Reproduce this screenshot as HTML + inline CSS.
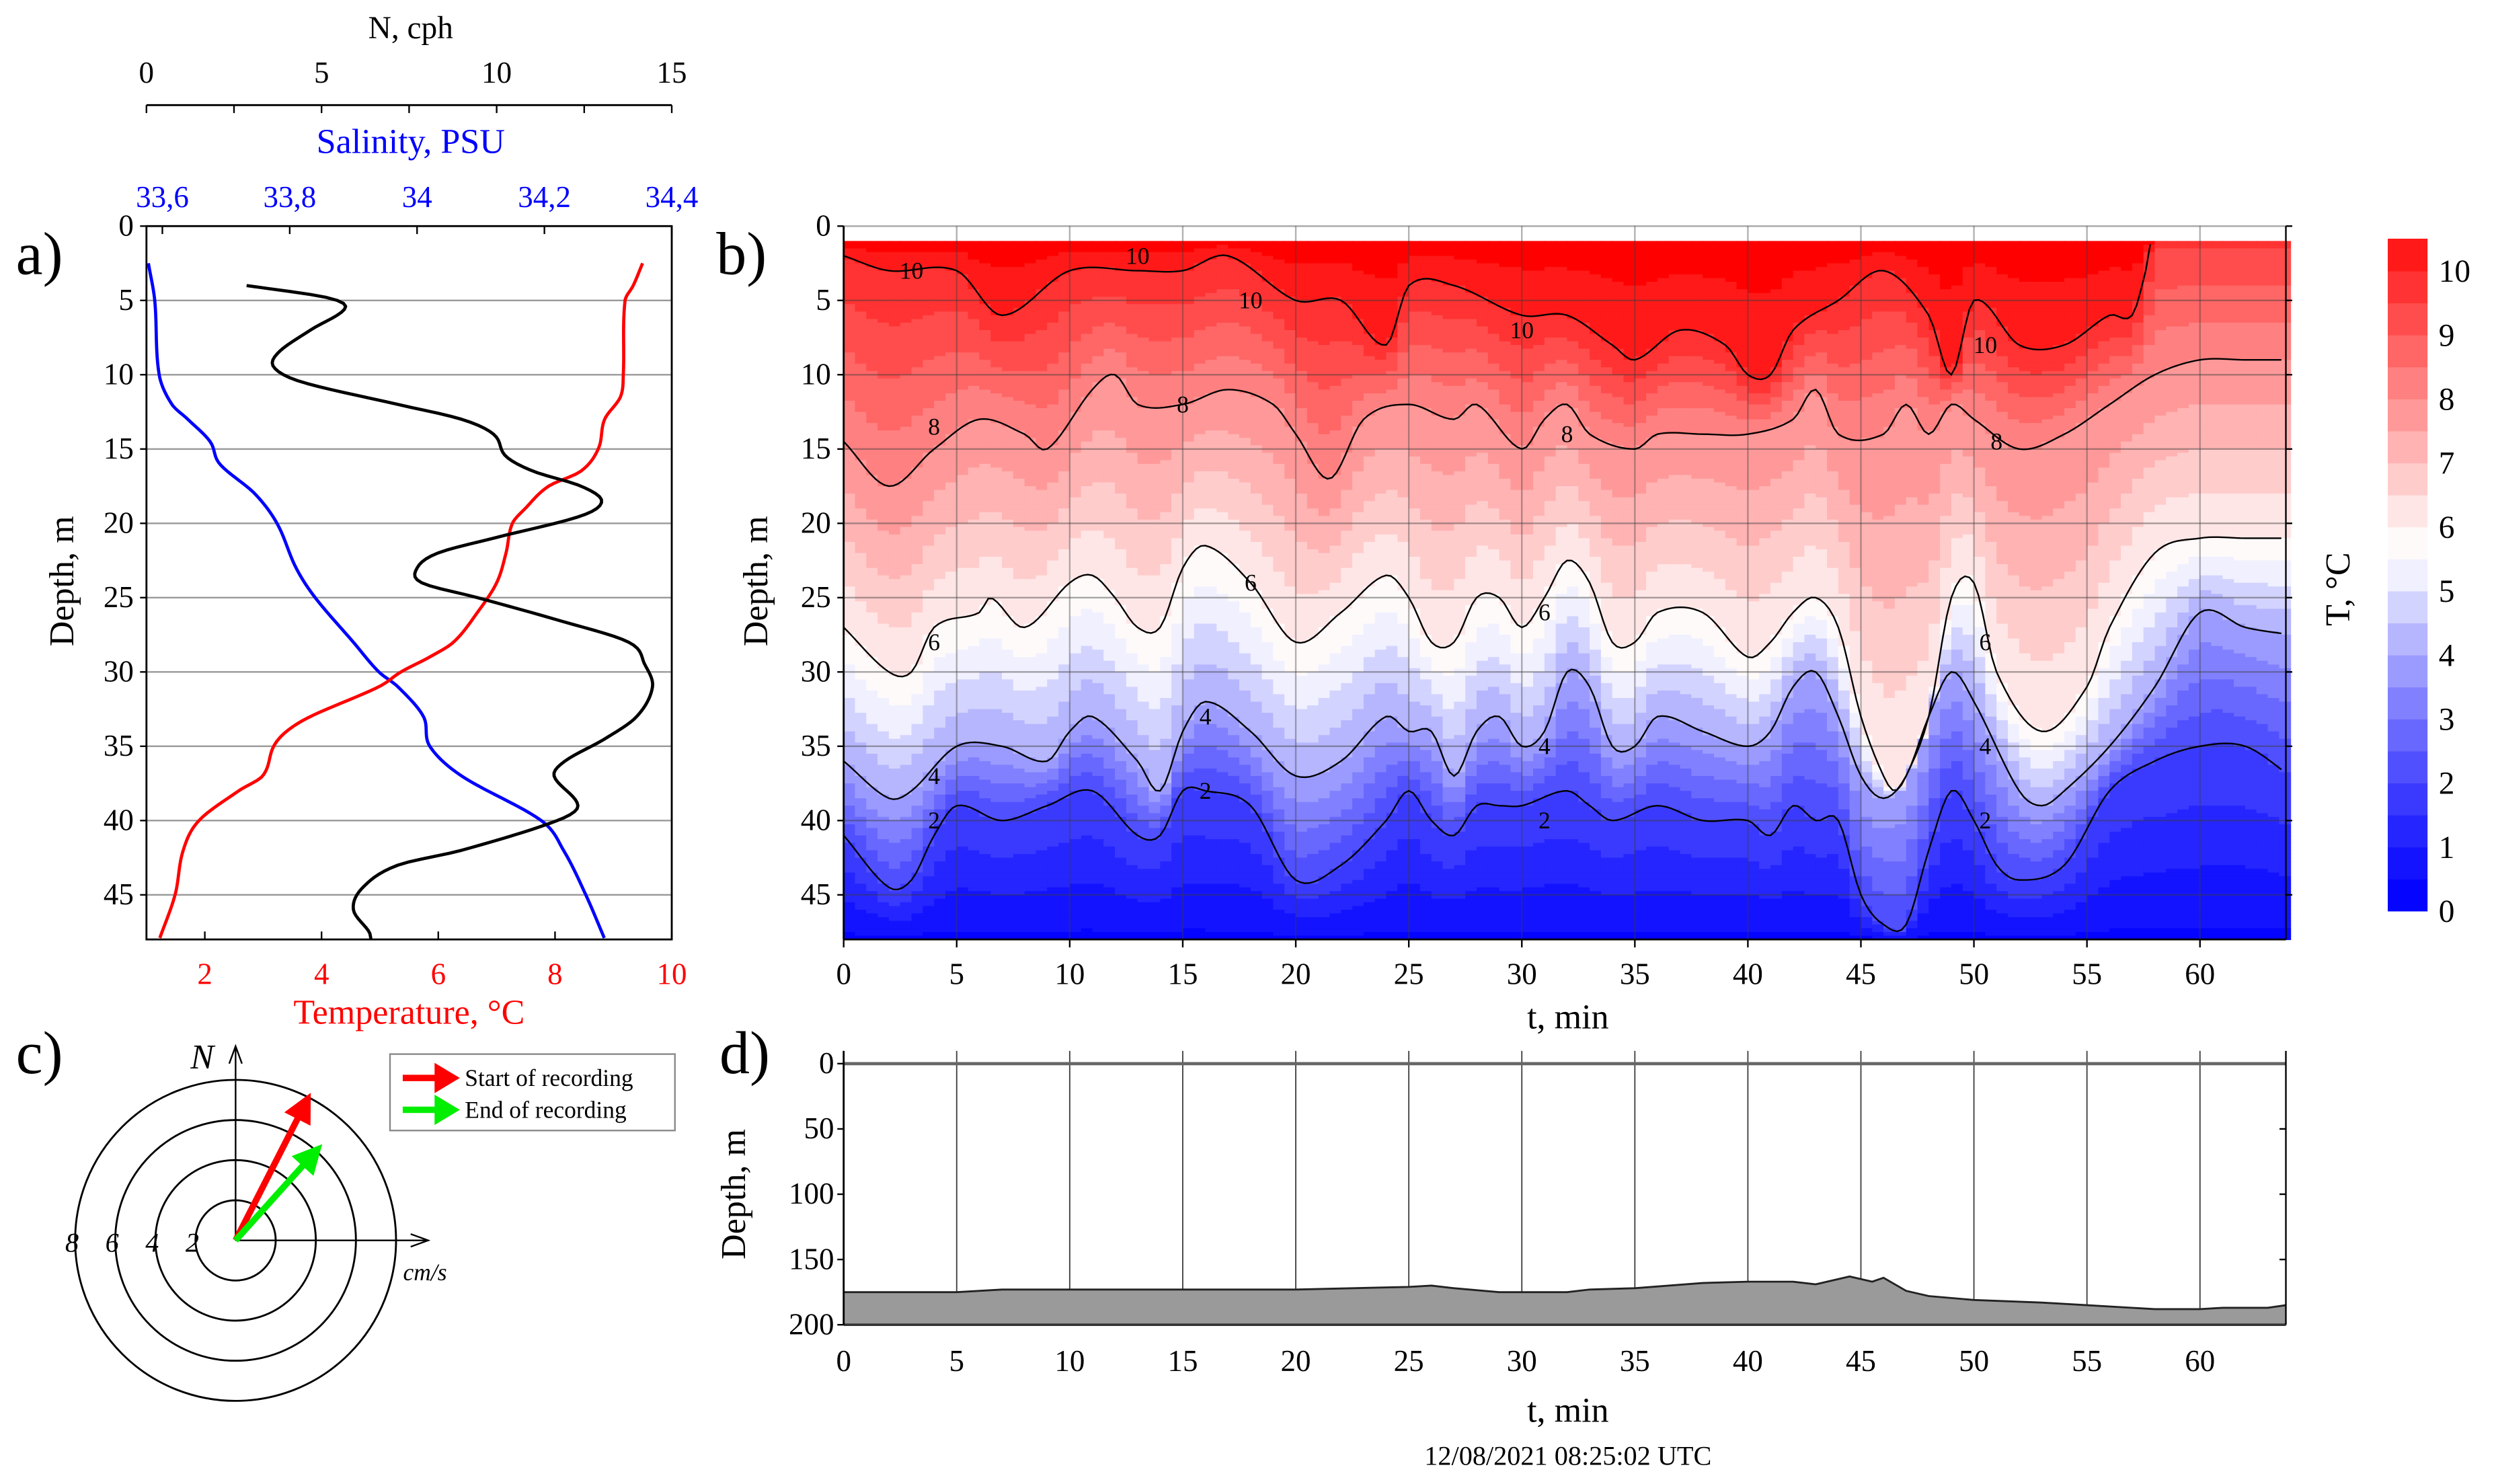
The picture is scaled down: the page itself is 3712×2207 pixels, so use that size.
<!DOCTYPE html>
<html><head><meta charset="utf-8"><title>Ocean profile figure</title>
<style>
html,body{margin:0;padding:0;background:#fff;}
svg{display:block;}
text{font-family:"Liberation Serif",serif;}
</style></head>
<body>
<svg id="fig" xmlns="http://www.w3.org/2000/svg" width="3712" height="2207" viewBox="0 0 1568 932" preserveAspectRatio="none" font-family="Liberation Serif, serif">
<rect x="0" y="0" width="1568" height="932" fill="#fff"/>
<text x="10" y="172" font-size="38">a)</text>
<text x="450" y="172" font-size="38">b)</text>
<text x="10" y="674" font-size="38">c)</text>
<text x="452" y="674" font-size="38">d)</text>

<g id="pa"></g>
<g id="pb"></g>
<g id="pc"></g>
<g id="pd"></g>
</svg>
<script>
// ---------- Panel a data ----------
const salDepth=[2.5,5,10,12,13,14.5,16,18,20,23,25,28,30,31,33,35,37,40,42,45,48];
const salinity=[33.578,33.588,33.595,33.615,33.64,33.675,33.69,33.745,33.78,33.81,33.84,33.90,33.94,33.97,34.01,34.02,34.07,34.195,34.23,34.265,34.295];
const tempDepth=[2.5,4,5,10,11.5,13,15,16.5,17.5,19,20,22,24,26,28,29,30,31,33,34,35,37,38,40,42,45,48];
const temperature=[9.5,9.34,9.2,9.17,9.12,8.85,8.74,8.44,7.89,7.49,7.27,7.16,7.0,6.67,6.26,5.85,5.36,4.98,3.81,3.4,3.18,2.99,2.58,1.9,1.63,1.49,1.22];
const nDepth=[4,4.8,5.5,7,8.5,9.5,10.5,12,13,14,15.5,16.5,17.5,18.5,19.5,21,22,23,24,25,26.5,28,29.5,31,33,34.5,36,37,39,40,42,43,44.5,46,47.5,48];
const nFreq=[2.86,5.14,5.68,4.68,3.77,3.64,4.45,7.18,9.0,9.91,10.27,11.05,12.41,13.0,12.41,9.91,8.32,7.73,7.86,9.45,11.73,13.77,14.23,14.45,14.0,13.09,11.95,11.64,12.32,11.73,9.0,7.18,6.18,5.91,6.36,6.41];
const depthTicksA=[0,5,10,15,20,25,30,35,40,45];
const tempTicks=[2,4,6,8,10];
const salTicks=["33,6","33,8","34","34,2","34,4"];
const salTickVals=[33.6,33.8,34.0,34.2,34.4];
const nTicks=[0,5,10,15];

// ---------- Panel b data (isotherm depths vs time) ----------
const c10t=[0,2,5,7,10,13,15,17,20,22,24,25,27,30,32,34,35,37,39,40,41,42,44,46,48,49,50,52,54,56,57,57.6,58,64];
const c10d=[2,3,3,6,3,3,3,2,5,5,8,4,4,6,6,8,9,7,8,10,10,7,5,3,6,10,5,8,8,6,6,3,0,0];
const c8t=[0,2,4,6,8,9,11,12,13,15,17,19,20,21.5,23,25,27,28,30,31,32,33,35,36,38,40,42,43,44,46,47,48,49,50,52,54,56,58,60,62,64];
const c8d=[14.5,17.5,15,13,14,15,11,10,12,12,11,12,14,17,13,12,13,12,15,13,12,14,15,14,14,14,13,11,14,14,12,14,12,13,15,14,12,10,9,9,9];
const c6t=[0,2,3,4,6,6.5,8,10,11,12,13,14,15,16,18,20,22,24,25,26,27,28,29,30,31,32,33,34,35,36,38,40,41,42,43,44,45,46,46.5,47,48,49,50,51,53,55,56,58,60,62,64];
const c6d=[27,30,30,27,26,25,27,24,23.5,25,27,27,23,21.5,24,28,26,23.5,25,28,28,25,25,27,25,22.5,24,28,28,26,26,29,28,26,25,27,33,37,38,37,33,25,24,30,34,31,27,22,21,21,21];
const c4t=[0,2,3,5,7,9,10,11,13,14,15,16,18,20,22,24,25,26,27,28,29,30,31,32,33,34,35,36,38,40,41,42,43,44,45,46,47,48,49,50,52,53,54,56,58,60,62,64];
const c4d=[36,38.5,38,35,35,36,34,33,36,38,34,32,34,37,36,33,34,34,37,34,33,35,34,30,31,35,35,33,34,35,34,31,30,33,37,38.5,37,33,30,32,38,39,38,35,31,26,27,27.5];
const c2t=[0,2,3,4,5,7,9,11,13,14,15,16,18,20,22,24,25,26,27,28,29,30,32,33,34,36,38,40,41,42,43,44,45,46,47,48,49,50,51,52,54,56,58,60,62,64];
const c2d=[41,44.5,44,41,39,40,39,38,41,41,38,38,39,44,43,40,38,40,41,39,39,39,38,39,40,39,40,40,41,39,40,40,45,47,47,42,38,40,43,44,43,38,36,35,35,37];
const contourLabelT=[3,13,18,30,50.5,4,15,32,51,4,18,31,50.5,4,16,31,50.5,4,16,31,50.5];
const contourLabelD=[3,2,5,7,8,13.5,12,14,14.5,28,24,26,28,37,33,35,35,40,38,40,40];
const contourLabelV=["10","10","10","10","10","8","8","8","8","6","6","6","6","4","4","4","4","2","2","2","2"];
const depthTicksB=[0,5,10,15,20,25,30,35,40,45];
const timeTicks=[0,5,10,15,20,25,30,35,40,45,50,55,60];
const cbarTicks=[0,1,2,3,4,5,6,7,8,9,10];

// ---------- Panel c data ----------
const arrowNames=["start","end"];
const arrowSpeed=[7.9,6.1];
const arrowDir=[27,42];
const ringVals=[2,4,6,8];

// ---------- Panel d data ----------
const bottomT=[0,5,7,20,25,26,27,29,32,33,35,38,40,42,43,44.5,45.5,46,47,48,50,53,55,58,60,61,63,64];
const bottomD=[175,175,173,173,171,170,172,175,175,173,172,168,167,167,169,163,167,164,174,178,181,183,185,188,188,187,187,185];
const depthTicksD=[0,50,100,150,200];

const NS="http://www.w3.org/2000/svg";
function mk(parent,tag,attrs){const e=document.createElementNS(NS,tag);for(const k in attrs)e.setAttribute(k,attrs[k]);parent.appendChild(e);return e;}
function interp(ta,da,t){if(t<=ta[0])return da[0];for(let i=1;i<ta.length;i++){if(t<=ta[i]){const f=(t-ta[i-1])/(ta[i]-ta[i-1]);return da[i-1]+f*(da[i]-da[i-1]);}}return da[da.length-1];}
// Catmull-Rom style smooth interpolation
function interpC(ta,da,t){const n=ta.length;if(t<=ta[0])return da[0];if(t>=ta[n-1])return da[n-1];
let i=1;while(ta[i]<t)i++;const t0=ta[i-1],t1=ta[i],p0=da[i-1],p1=da[i];
const h=t1-t0;const s=(t-t0)/h;
const m0=i-2>=0?(p1-da[i-2])/(t1-ta[i-2])*h:(p1-p0);
const m1=i+1<n?(da[i+1]-p0)/(ta[i+1]-t0)*h:(p1-p0);
const s2=s*s,s3=s2*s;
return (2*s3-3*s2+1)*p0+(s3-2*s2+s)*m0+(-2*s3+3*s2)*p1+(s3-s2)*m1;}
function smoothPts(ys,xs,fx,fy){const pts=[];const y0=ys[0],y1=ys[ys.length-1];for(let y=y0;y<=y1+1e-9;y+=0.2){pts.push(fx(interpC(ys,xs,Math.min(y,y1)))+','+fy(Math.min(y,y1)));}return pts.join(' ');}

// ===== Panel a =====
(function(){
const g=document.getElementById('pa');
const L=92,R=422,T=142,B=590;
const yA=d=>T+(B-T)*d/48;
const xT=v=>L+(v-1)*(R-L)/9;
const xS=v=>L+(v-33.575)*(R-L)/0.825;
const xN=v=>L+v*(R-L)/15;
depthTicksA.forEach(d=>{ if(d>0){const l=mk(g,'line',{x1:L,x2:R,y1:yA(d),y2:yA(d),stroke:'#999','stroke-width':1});

}
const t=mk(g,'text',{x:L-8,y:yA(d)+6,'font-size':19,'text-anchor':'end'});t.textContent=d;


mk(g,'line',{x1:L-4,x2:L,y1:yA(d),y2:yA(d),stroke:'#000'});
});
const fr=mk(g,'rect',{x:L,y:T,width:R-L,height:B-T,fill:'none',stroke:'#000','stroke-width':1.2});


tempTicks.forEach(v=>{mk(g,'line',{x1:xT(v),x2:xT(v),y1:B,y2:B-5,stroke:'#000'});
const t=mk(g,'text',{x:xT(v),y:B+28,'font-size':19,'text-anchor':'middle',fill:'#f00'});t.textContent=v;

});
const tt=mk(g,'text',{x:257,y:643,'font-size':22,'text-anchor':'middle',fill:'#f00'});tt.textContent='Temperature, °C';


salTickVals.forEach((v,i)=>{mk(g,'line',{x1:xS(v),x2:xS(v),y1:T,y2:T+5,stroke:'#000'});
const t=mk(g,'text',{x:xS(v),y:T-12,'font-size':19,'text-anchor':'middle',fill:'#00f'});t.textContent=salTicks[i];

});
const st=mk(g,'text',{x:258,y:96,'font-size':22,'text-anchor':'middle',fill:'#00f'});st.textContent='Salinity, PSU';


const nl=mk(g,'line',{x1:L,x2:R,y1:66,y2:66,stroke:'#000','stroke-width':1.2});


for(let v=0;v<=15;v+=2.5){mk(g,'line',{x1:xN(v),x2:xN(v),y1:66,y2:71,stroke:'#000'});}
nTicks.forEach(v=>{const t=mk(g,'text',{x:xN(v),y:52,'font-size':19,'text-anchor':'middle'});t.textContent=v;

});
const nt=mk(g,'text',{x:258,y:24,'font-size':20,'text-anchor':'middle'});nt.textContent='N, cph';


const yt=mk(g,'text',{x:0,y:0,'font-size':22,'text-anchor':'middle',transform:'translate(46,365) rotate(-90)'});yt.textContent='Depth, m';


const sp=mk(g,'polyline',{points:smoothPts(salDepth,salinity,xS,yA),fill:'none',stroke:'#00f','stroke-width':2});


const tp=mk(g,'polyline',{points:smoothPts(tempDepth,temperature,xT,yA),fill:'none',stroke:'#f00','stroke-width':2});


const np=mk(g,'polyline',{points:smoothPts(nDepth,nFreq,xN,yA),fill:'none',stroke:'#000','stroke-width':2,'stroke-linejoin':'round'});


})();

// ===== Panel b =====
function col(T){if(T<=5.5){const f=Math.max(0,T/5.5);const v=Math.round(255*Math.pow(f,1.3));return 'rgb('+v+','+v+',255)';}
if(T<=6)return 'rgb(255,250,250)';const f=Math.min(1,(T-5.75)/5);const v=Math.round(255*(1-f));return 'rgb(255,'+v+','+v+')';}
(function(){
const g=document.getElementById('pb');
const L=530,R=1436,T=142,B=590,TMAX=63.8;
const xt=t=>L+t*(R-L)/TMAX;
const yd=d=>T+(B-T)*d/48;
const cells=mk(g,'g',{});


const dt=0.5,dd=0.25;
for(let t=0;t<TMAX;t+=dt){
 const tc=t+dt/2;
 let d10=interpC(c10t,c10d,tc),d8=interpC(c8t,c8d,tc),d6=interpC(c6t,c6d,tc),d4=interpC(c4t,c4d,tc),d2=interpC(c2t,c2d,tc);
 d8=Math.max(d8,d10+0.3);d6=Math.max(d6,d8+0.3);d4=Math.max(d4,d6+0.3);d2=Math.max(d2,d4+0.3);
 let kd,kv;
 if(d10>=1){kd=[1,Math.max(d10,1.01),d8,d6,d4,d2,48];kv=[10.8,10,8,6,4,2,0.4];}
 else{kd=[1,d8,d6,d4,d2,48];kv=[9.6,8,6,4,2,0.4];}
 for(let d=1;d<48;d+=dd){
  const dc=d+dd/2;let Tv=interp(kd,kv,dc);
  Tv=Math.floor(Tv/0.5)*0.5+0.25;
  const r=document.createElementNS(NS,'rect');
  r.setAttribute('x',xt(t));r.setAttribute('y',yd(d));
  r.setAttribute('width',(R-L)*dt/TMAX+0.4);r.setAttribute('height',(B-T)*dd/48+0.4);
  r.setAttribute('fill',col(Tv));
  
  
  cells.appendChild(r);
 }
}
depthTicksB.forEach(d=>{const l=mk(g,'line',{x1:L,x2:R,y1:yd(d),y2:yd(d),stroke:'rgba(60,60,60,0.45)','stroke-width':1});


mk(g,'line',{x1:L-4,x2:L,y1:yd(d),y2:yd(d),stroke:'#000'});
mk(g,'line',{x1:R,x2:R+4,y1:yd(d),y2:yd(d),stroke:'#000'});
const t=mk(g,'text',{x:L-8,y:yd(d)+6,'font-size':19,'text-anchor':'end'});t.textContent=d;

});
timeTicks.forEach(v=>{const l=mk(g,'line',{x1:xt(v),x2:xt(v),y1:T,y2:B,stroke:'rgba(60,60,60,0.4)','stroke-width':1});


mk(g,'line',{x1:xt(v),x2:xt(v),y1:B,y2:B+5,stroke:'#000'});
const t=mk(g,'text',{x:xt(v),y:B+28,'font-size':19,'text-anchor':'middle'});t.textContent=v;

});
const sets=[[c10t,c10d,'contour-10'],[c8t,c8d,'contour-8'],[c6t,c6d,'contour-6'],[c4t,c4d,'contour-4'],[c2t,c2d,'contour-2']];
sets.forEach(s=>{let pts=[];const segs=[];
 for(let t=0;t<=TMAX;t+=0.2){const d=interpC(s[0],s[1],t);if(d>=1){pts.push(xt(t)+','+yd(d));}else{if(pts.length)segs.push(pts);pts=[];}}
 if(pts.length)segs.push(pts);
 segs.forEach(p=>{const pl=mk(g,'polyline',{points:p.join(' '),fill:'none',stroke:'#000','stroke-width':1});
 
 });
});
contourLabelT.forEach((t,i)=>{const tx=mk(g,'text',{x:xt(t),y:yd(contourLabelD[i])+5,'font-size':15,'text-anchor':'middle','font-family':'Liberation Sans, sans-serif'});tx.textContent=contourLabelV[i];

});
const fr=mk(g,'line',{x1:L,x2:L,y1:T,y2:B,stroke:'#000','stroke-width':1.2});


const fb=mk(g,'line',{x1:L,x2:R,y1:B,y2:B,stroke:'#000','stroke-width':1.2});


mk(g,'line',{x1:R,x2:R,y1:T,y2:B,stroke:'#000','stroke-width':1});
const xl=mk(g,'text',{x:985,y:646,'font-size':22,'text-anchor':'middle'});xl.textContent='t, min';


const yl=mk(g,'text',{x:0,y:0,'font-size':22,'text-anchor':'middle',transform:'translate(482,365) rotate(-90)'});yl.textContent='Depth, m';


const cb=mk(g,'g',{});


const cy=v=>572-v*40.2;
for(let v=0;v<10.5;v+=0.5){const r=mk(cb,'rect',{x:1500,y:cy(v+0.5),width:25,height:40.2*0.5+0.4,fill:col(v+0.25)});

}
cbarTicks.forEach(v=>{const t=mk(cb,'text',{x:1532,y:cy(v)+7,'font-size':20});t.textContent=v;

});
const ct=mk(cb,'text',{x:0,y:0,'font-size':22,'text-anchor':'middle',transform:'translate(1476,370) rotate(-90)'});ct.textContent='T, °C';


})();

// ===== Panel c =====
(function(){
const g=document.getElementById('pc');
const cx=148,cy=779,k=12.6;
ringVals.forEach(v=>{const c=mk(g,'circle',{cx:cx,cy:cy,r:v*k,fill:'none',stroke:'#000','stroke-width':1.2});


const t=mk(g,'text',{x:cx-v*k-2,y:cy+7,'font-size':17,'font-style':'italic','text-anchor':'middle'});t.textContent=v;

});
const ny=mk(g,'path',{d:`M${cx},${cy} L${cx},657 M${cx-4},668 L${cx},657 L${cx+4},668`,fill:'none',stroke:'#000','stroke-width':1});


const ex=mk(g,'path',{d:`M${cx},${cy} L269,${cy} M258,${cy-4} L269,${cy} L258,${cy+4}`,fill:'none',stroke:'#000','stroke-width':1});


const nl=mk(g,'text',{x:127,y:671,'font-size':22,'font-style':'italic','text-anchor':'middle'});nl.textContent='N';


const cl=mk(g,'text',{x:267,y:804,'font-size':15,'font-style':'italic','text-anchor':'middle'});cl.textContent='cm/s';


const cols=['#ff0000','#00ee00'];
arrowSpeed.forEach((s,i)=>{const a=arrowDir[i]*Math.PI/180;const x2=cx+s*k*Math.sin(a),y2=cy-s*k*Math.cos(a);
const ux=Math.sin(a),uy=-Math.cos(a);const hx=x2-ux*12,hy=y2-uy*12;
const p=mk(g,'path',{d:`M${cx},${cy} L${hx},${hy} M${x2},${y2} L${hx-uy*6},${hy+ux*6} L${hx+uy*6},${hy-ux*6} Z`,fill:cols[i],stroke:cols[i],'stroke-width':4,'stroke-linejoin':'miter'});

});
const lg=mk(g,'g',{});


mk(lg,'rect',{x:245,y:662,width:179,height:48,fill:'#fff',stroke:'#888','stroke-width':1});
const labels=['Start of recording','End of recording'];
labels.forEach((l,i)=>{const y=677+i*20;
const p=mk(lg,'path',{d:`M253,${y} L275,${y} M285,${y} L275,${y-6} L275,${y+6} Z`,fill:cols[i],stroke:cols[i],'stroke-width':4});


const t=mk(lg,'text',{x:292,y:y+5,'font-size':15});t.textContent=l;

});
})();

// ===== Panel d =====
(function(){
const g=document.getElementById('pd');
const L=530,R=1436,T=668,B=832,TMAX=63.8;
const xt=t=>L+t*(R-L)/TMAX;
const yd=d=>T+(B-T)*d/200;
timeTicks.forEach(v=>{const l=mk(g,'line',{x1:xt(v),x2:xt(v),y1:660,y2:B,stroke:'#444','stroke-width':0.8});


const t=mk(g,'text',{x:xt(v),y:B+29,'font-size':19,'text-anchor':'middle'});t.textContent=v;

});
const pts=[xt(0)+','+yd(200)];
bottomT.forEach((t,i)=>pts.push(xt(Math.min(t,TMAX))+','+yd(bottomD[i])));
pts.push(xt(TMAX)+','+yd(200));
const ar=mk(g,'polygon',{points:pts.join(' '),fill:'#9a9a9a',stroke:'none'});


const ln=mk(g,'polyline',{points:bottomT.map((t,i)=>xt(Math.min(t,TMAX))+','+yd(bottomD[i])).join(' '),fill:'none',stroke:'#222','stroke-width':1.2});


depthTicksD.forEach(d=>{mk(g,'line',{x1:L-4,x2:L,y1:yd(d),y2:yd(d),stroke:'#000'});
mk(g,'line',{x1:R-4,x2:R,y1:yd(d),y2:yd(d),stroke:'#000'});
const t=mk(g,'text',{x:L-6,y:yd(d)+6,'font-size':19,'text-anchor':'end'});t.textContent=d;

});
mk(g,'line',{x1:L,x2:R,y1:T,y2:T,stroke:'#666','stroke-width':2});
mk(g,'line',{x1:L,x2:R,y1:B,y2:B,stroke:'#333','stroke-width':1.5});
mk(g,'line',{x1:L,x2:L,y1:660,y2:B,stroke:'#000','stroke-width':1.2});
mk(g,'line',{x1:R,x2:R,y1:660,y2:B,stroke:'#000','stroke-width':1});
const xl=mk(g,'text',{x:985,y:893,'font-size':22,'text-anchor':'middle'});xl.textContent='t, min';


const dl=mk(g,'text',{x:985,y:920,'font-size':17,'text-anchor':'middle'});dl.textContent='12/08/2021 08:25:02 UTC';


const yl=mk(g,'text',{x:0,y:0,'font-size':22,'text-anchor':'middle',transform:'translate(468,750) rotate(-90)'});yl.textContent='Depth, m';


})();
</script>
</body></html>
